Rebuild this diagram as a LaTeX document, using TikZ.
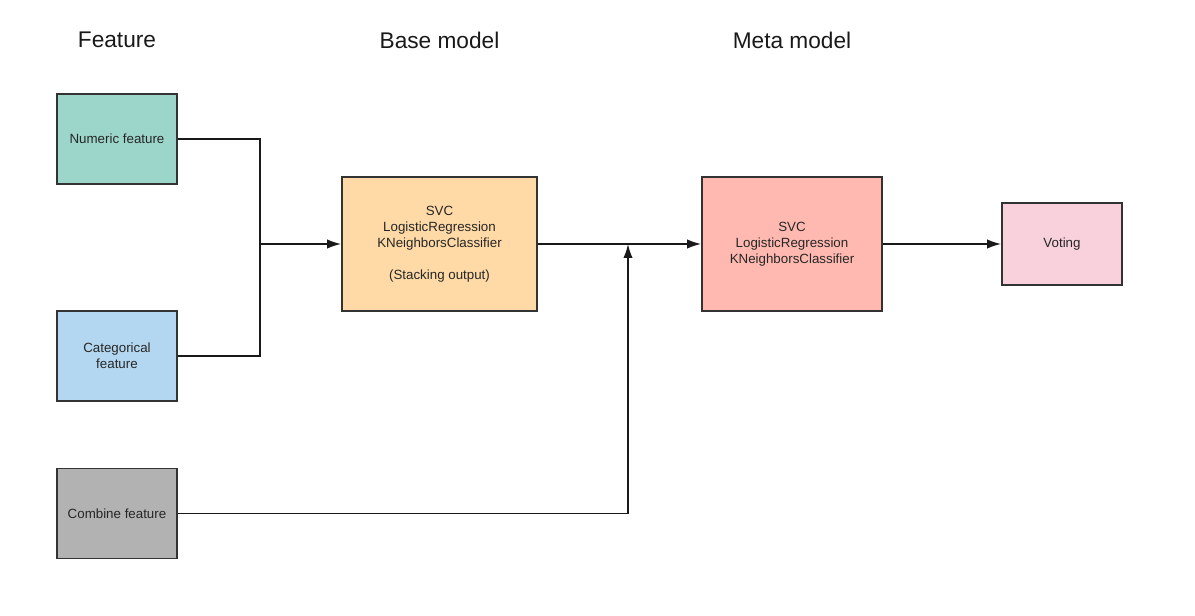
\documentclass[tikz,border=0pt]{standalone}
\usepackage{fontspec}
\setmainfont{Liberation Sans}
\usetikzlibrary{arrows.meta, positioning}
\definecolor{numcol}{HTML}{9CD6CB}
\definecolor{catcol}{HTML}{B4D7F1}
\definecolor{combcol}{HTML}{B2B2B2}
\definecolor{basecol}{HTML}{FFDAA6}
\definecolor{metacol}{HTML}{FFB9B0}
\definecolor{votecol}{HTML}{F9D1DC}
\definecolor{edgecol}{HTML}{333333}

\begin{document}
\begin{tikzpicture}[
    x=0.75pt, y=-0.75pt,
    block/.style={rectangle, draw=edgecol, line width=1.3pt, text=black!85, align=center, font=\fontsize{10}{12}\selectfont, minimum width=90pt, minimum height=67.5pt, inner sep=0pt},
    head/.style={text=black!90, font=\fontsize{17}{20}\selectfont},
    wire/.style={draw, line width=1.2pt, black!90},
    line/.style={wire, -{Latex[length=10.5pt, width=7pt]}}
]
\useasboundingbox (0,0) rectangle (1195,616);

% Headers
\node[head] (hfeature) at (117,40) {Feature};
\node[head] (hbase) at (439.5,40) {Base model};
\node[head] (hmeta) at (792,40) {Meta model};

% Nodes
\node[block, fill=numcol] (numeric) at (117,139) {Numeric feature};
\node[block, fill=catcol] (categorical) at (117,356) {Categorical\\feature};
\node[block, fill=combcol] (combine) at (117,513.5) {Combine feature};
\node[block, fill=basecol, minimum width=146.25pt, minimum height=100.5pt] (base) at (439.5,244) {SVC\\LogisticRegression\\KNeighborsClassifier\\[12pt](Stacking output)};
\node[block, fill=metacol, minimum width=135pt, minimum height=100.5pt] (meta) at (792,244) {SVC\\LogisticRegression\\KNeighborsClassifier};
\node[block, fill=votecol, minimum height=61.5pt] (voting) at (1062,244) {Voting};

% Paths
\coordinate (join) at (260,244);
\coordinate (merge) at (628,244);
\path[wire] (numeric.east) -| (join);
\path[wire] (categorical.east) -| (join);
\path[line] (join) -- (base.west);
\path[line] (base.east) -- (meta.west);
\path[line] (combine.east) -| (merge);
\path[line] (meta.east) -- (voting.west);

\end{tikzpicture}
\end{document}
